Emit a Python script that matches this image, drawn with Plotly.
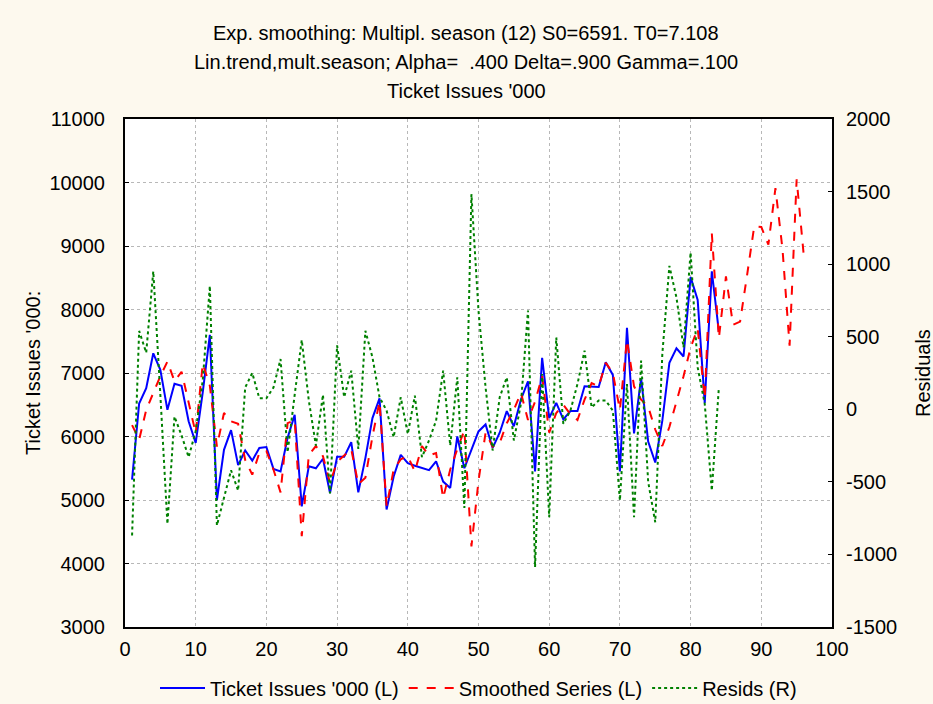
import plotly.graph_objects as go

# Ticket issues ('000), observed series, periods 1..84
ticket_x = list(range(1, 85))
ticket = [5320, 6520, 6760, 7310, 7050, 6420, 6830, 6800, 6240, 5900,
          6700, 7600, 5000, 5790, 6100, 5550, 5780, 5620, 5820, 5835,
          5490, 5450, 5980, 6340, 4900, 5530, 5500, 5650, 5110, 5680,
          5680, 5910, 5120, 5660, 6290, 6600, 4850, 5370, 5710, 5580,
          5540, 5500, 5470, 5610, 5290, 5190, 6000, 5500, 5790, 6080,
          6190, 5820, 6060, 6400, 6160, 6580, 6870, 5450, 7240, 6290,
          6530, 6270, 6400, 6400, 6790, 6790, 6780, 7170, 6970, 5450,
          7710, 6050, 6920, 5920, 5590, 6250, 7160, 7390, 7260, 8510,
          8150, 6530, 8600, 7650]

# Exponentially smoothed series incl. 12-period forecast, periods 1..96
smooth_x = list(range(1, 97))
smoothed = [6180, 5950, 6420, 6700, 6950, 7180, 6870, 7020, 6520, 6050,
            7150, 6800, 5840, 6370, 6240, 6200, 5630, 5400, 5740, 5770,
            5480, 5120, 6210, 6260, 4430, 5710, 5850, 5690, 5270, 5600,
            5700, 5800, 5250, 5350, 6000, 6550, 4900, 5480, 5640, 5690,
            5450, 5850, 5700, 5740, 5030, 5480, 5800, 6100, 4270, 5300,
            6060, 5840, 5900, 6210, 6420, 6690, 6260, 6550, 6950, 6060,
            6370, 6500, 6350, 6260, 6580, 6840, 6790, 7160, 7000, 6420,
            7520, 6790, 6580, 6470, 6110, 5850, 6150, 6550, 6950, 7400,
            7700, 6600, 9200, 7550, 8520, 7760, 7810, 8550, 9310, 9300,
            9020, 9910, 8950, 7430, 10050, 8860]

# Residuals (right axis), periods 1..84
resid_x = list(range(1, 85))
resids = [-870, 540, 390, 950, 100, -790, -50, -180, -330, -150,
          200, 850, -800, -600, -420, -560, 150, 250, 76, 76,
          150, 346, -296, 100, 477, 60, -250, 100, -580, 440,
          83, 266, -273, 541, 358, 83, -9, -193, 83, -170,
          94, -330, -215, -78, 266, -250, 220, -680, 1482, 679,
          151, -284, 83, 220, -215, 37, 680, -1087, 243, -743,
          495, -100, -9, 174, 404, 14, 60, 60, -9, -628,
          174, -743, 335, -500, -778, 380, 988, 770, 427, 1080,
          289, 37, -560, 151]

x_ticks = list(range(0, 101, 10))
left_ticks = list(range(3000, 11001, 1000))
right_ticks = list(range(-1500, 2001, 500))

title_lines = [
    "Exp. smoothing: Multipl. season (12) S0=6591. T0=7.108",
    "Lin.trend,mult.season; Alpha=  .400 Delta=.900 Gamma=.100",
    "Ticket Issues '000",
]

FONT = "Liberation Sans, Arial, sans-serif"
BG = "#fdf9ee"
FS = 20

fig = go.Figure()
fig.add_trace(go.Scatter(x=ticket_x, y=ticket, mode="lines",
                         name="Ticket Issues '000 (L)",
                         line=dict(color="#0000ff", width=2)))
fig.add_trace(go.Scatter(x=smooth_x, y=smoothed, mode="lines",
                         name="Smoothed Series (L)",
                         line=dict(color="#ff0000", width=2, dash="dash")))
fig.add_trace(go.Scatter(x=resid_x, y=resids, mode="lines",
                         name="Resids (R)", yaxis="y2",
                         line=dict(color="#008000", width=2, dash="dot")))

fig.update_layout(
    width=933, height=704,
    margin=dict(l=125, r=101, t=119, b=77, autoexpand=False),
    paper_bgcolor=BG, plot_bgcolor="white",
    font=dict(family=FONT, size=FS, color="black"),
    showlegend=True,
    legend=dict(orientation="h", x=0.5, xanchor="center",
                y=-0.12, yanchor="middle", font=dict(size=FS),
                bgcolor="rgba(0,0,0,0)", itemwidth=45),
    xaxis=dict(range=[0, 100], tickvals=x_ticks,
               ticktext=[str(v) for v in x_ticks], showgrid=True,
               gridcolor="#b8b8b8", griddash="dot", gridwidth=1,
               showline=True, linecolor="black", linewidth=2, mirror=True,
               ticks="", zeroline=False, ticklabelstandoff=3),
    yaxis=dict(range=[3000, 11000], tickvals=left_ticks,
               ticktext=[str(v) for v in left_ticks], showgrid=True,
               gridcolor="#b8b8b8", griddash="dot", gridwidth=1,
               showline=True, linecolor="black", linewidth=2, mirror=True,
               ticks="inside", ticklen=4, tickcolor="black",
               zeroline=False, ticklabelstandoff=14),
    yaxis2=dict(range=[-1500, 2000], tickvals=right_ticks,
                ticktext=[str(v) for v in right_ticks], overlaying="y",
                side="right", showgrid=False, showline=True,
                linecolor="black", linewidth=2, ticks="inside", ticklen=4,
                tickcolor="black", zeroline=False, ticklabelstandoff=8),
)

# three-line heading
for line, ypix in zip(title_lines, [33, 62, 91]):
    fig.add_annotation(text=line, xref="paper", yref="paper",
                       x=(466 - 125) / 707, y=(627 - ypix) / 508,
                       xanchor="center", yanchor="middle", showarrow=False,
                       font=dict(size=FS, family=FONT))

# axis titles
fig.add_annotation(text="Ticket Issues '000:", xref="paper", yref="paper",
                   x=(33 - 125) / 707, y=0.5, textangle=-90,
                   xanchor="center", yanchor="middle", showarrow=False,
                   font=dict(size=FS, family=FONT))
fig.add_annotation(text="Residuals", xref="paper", yref="paper",
                   x=(923 - 125) / 707, y=0.5, textangle=-90,
                   xanchor="center", yanchor="middle", showarrow=False,
                   font=dict(size=FS, family=FONT))

fig.write_html("out.html")
